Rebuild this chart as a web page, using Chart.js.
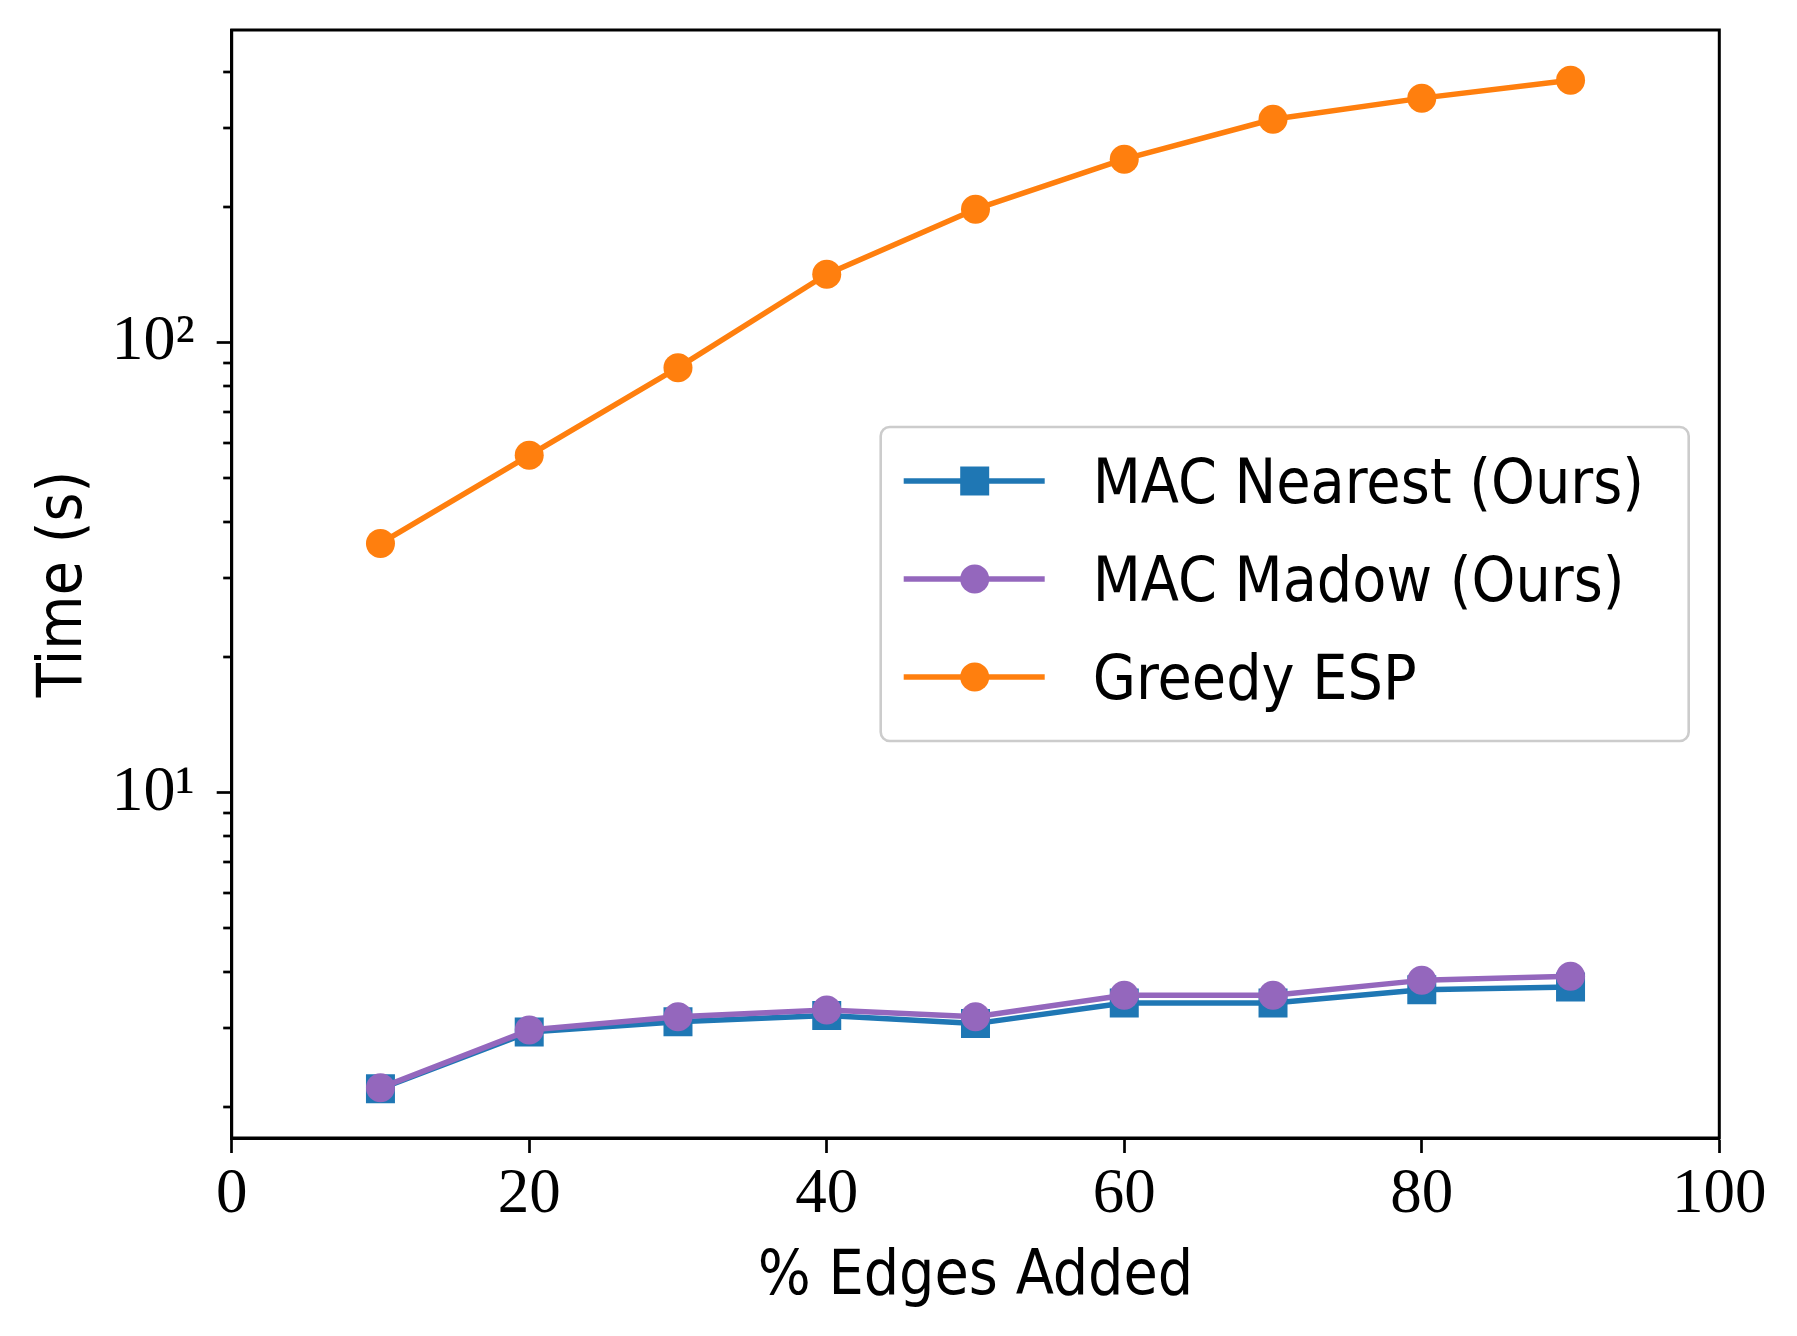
<!DOCTYPE html>
<html>
<head>
<meta charset="utf-8">
<script src="https://cdn.jsdelivr.net/npm/chart.js@4.4.0/dist/chart.umd.min.js"></script>
<style>
  html, body { margin: 0; padding: 0; background: #fff; }
  #wrap { width: 1797px; height: 1336px; }
</style>
</head>
<body>
<div id="wrap"><canvas id="chart" width="1797" height="1336"></canvas></div>
<script>
"use strict";

// values (time in seconds, log axis)
const edgesAdded = [10, 20, 30, 40, 50, 60, 70, 80, 90];
const macNearest = [2.20, 2.94, 3.10, 3.20, 3.07, 3.41, 3.41, 3.65, 3.70];
const macMadow = [2.21, 2.97, 3.18, 3.29, 3.18, 3.55, 3.55, 3.83, 3.91];
const greedyEsp = [35.8, 56.2, 88.0, 141.9, 197.9, 255.6, 313.6, 349.3, 383.0];
const seriesNames = ['MAC Nearest (Ours)', 'MAC Madow (Ours)', 'Greedy ESP'];

// tick positions
const xTicks = [0, 20, 40, 60, 80, 100];
const yTicks = [2, 3, 4, 5, 6, 7, 8, 9, 10, 20, 30, 40, 50, 60, 70, 80, 90, 100, 200, 300, 400];
const yMajor = [10, 100];

const sansFont = "'DejaVu Sans Condensed', 'DejaVu Sans', sans-serif";
const serifFont = "'Liberation Serif', 'DejaVu Serif', serif";
const sup = {'0': '\u2070', '1': '\u00b9', '2': '\u00b2', '3': '\u00b3'};

function points(ys) {
  return edgesAdded.map((x, i) => ({x: x, y: ys[i]}));
}

// box around the axes, minor log ticks and the legend
const framePlugin = {
  id: 'frame',
  afterDraw(chart) {
    const ctx = chart.ctx;
    const a = chart.chartArea;
    const yScale = chart.scales.y;
    ctx.save();
    ctx.strokeStyle = '#000';
    ctx.lineWidth = 2.7;
    yTicks.filter(v => !yMajor.includes(v)).forEach(v => {
      const py = Math.round(yScale.getPixelForValue(v));
      ctx.beginPath();
      ctx.moveTo(a.left - 8.5, py);
      ctx.lineTo(a.left, py);
      ctx.stroke();
    });
    ctx.lineWidth = 3;
    ctx.strokeRect(a.left, a.top, a.right - a.left, a.bottom - a.top);

    // legend
    const lx = a.left + 649, ly = a.top + 397;
    const lw = 808, lh = 314;
    ctx.beginPath();
    Chart.helpers.addRoundedRectPath(ctx, {x: lx, y: ly, w: lw, h: lh,
      radius: {topLeft: 9, topRight: 9, bottomLeft: 9, bottomRight: 9}});
    ctx.fillStyle = 'rgba(255,255,255,0.8)';
    ctx.fill();
    ctx.strokeStyle = '#cccccc';
    ctx.lineWidth = 2.6;
    ctx.stroke();

    chart.data.datasets.forEach((ds, i) => {
      const cy = ly + 54 + i * 98;
      ctx.strokeStyle = ds.borderColor;
      ctx.lineWidth = ds.borderWidth;
      ctx.beginPath();
      ctx.moveTo(lx + 23, cy);
      ctx.lineTo(lx + 164, cy);
      ctx.stroke();
      ctx.fillStyle = ds.borderColor;
      Chart.helpers.drawPoint(ctx, {pointStyle: ds.pointStyle, radius: ds.pointRadius,
        rotation: 0, borderWidth: 0}, lx + 94, cy);
      ctx.fillStyle = '#000';
      ctx.font = '62px ' + sansFont;
      ctx.textBaseline = 'alphabetic';
      ctx.textAlign = 'left';
      ctx.fillText(ds.label, lx + 212, cy + 22);
    });
    ctx.restore();
  }
};

const chart = new Chart(document.getElementById('chart'), {
  type: 'line',
  data: {
    datasets: [
      {
        label: seriesNames[0],
        data: points(macNearest),
        borderColor: '#1f77b4',
        backgroundColor: '#1f77b4',
        pointStyle: 'rect',
        pointRadius: 20.5,
        order: 3
      },
      {
        label: seriesNames[1],
        data: points(macMadow),
        borderColor: '#9467bd',
        backgroundColor: '#9467bd',
        pointStyle: 'circle',
        pointRadius: 14.5,
        order: 2
      },
      {
        label: seriesNames[2],
        data: points(greedyEsp),
        borderColor: '#ff7f0e',
        backgroundColor: '#ff7f0e',
        pointStyle: 'circle',
        pointRadius: 14.5,
        order: 1
      }
    ].map(ds => Object.assign(ds, {
      borderWidth: 5.5,
      pointBorderWidth: 0,
      pointHoverRadius: ds.pointRadius,
      borderJoinStyle: 'round',
      tension: 0,
      fill: false
    }))
  },
  options: {
    responsive: false,
    animation: false,
    devicePixelRatio: 1,
    layout: {padding: {top: 30, right: 77.7, left: 0, bottom: 0}},
    plugins: {
      legend: {display: false},
      tooltip: {enabled: false}
    },
    scales: {
      x: {
        type: 'linear',
        min: 0,
        max: 100,
        afterBuildTicks: s => { s.ticks = xTicks.map(v => ({value: v})); },
        afterFit: s => { s.height = 198; },
        grid: {drawOnChartArea: false, color: '#000', tickLength: 15, tickWidth: 2.7},
        border: {color: '#000', width: 3},
        ticks: {
          font: {family: serifFont, size: 63},
          color: '#000',
          padding: 5,
          maxRotation: 0,
          autoSkip: false
        },
        title: {
          display: true,
          text: '% Edges Added',
          color: '#000',
          font: {family: sansFont, size: 62},
          padding: {top: 0, bottom: 21}
        }
      },
      y: {
        type: 'logarithmic',
        min: 1.71,
        max: 495,
        bounds: 'data',
        afterBuildTicks: s => { s.ticks = yTicks.map(v => ({value: v})); },
        afterFit: s => { s.width = 231.7; s.paddingTop = 0; s.paddingBottom = 0; },
        grid: {
          drawOnChartArea: false,
          tickLength: 15,
          tickWidth: 2.7,
          tickColor: c => (c.tick && yMajor.includes(c.tick.value)) ? '#000' : 'rgba(0,0,0,0)'
        },
        border: {color: '#000', width: 3},
        ticks: {
          font: {family: serifFont, size: 64},
          color: '#000',
          padding: 22,
          autoSkip: false,
          callback: v => {
            if (!yMajor.includes(v)) return '';
            const e = String(Math.round(Math.log10(v)));
            return '10' + e.split('').map(d => sup[d]).join('');
          }
        },
        title: {
          display: true,
          text: 'Time (s)',
          color: '#000',
          font: {family: sansFont, size: 62},
          padding: {top: 28, bottom: 0}
        }
      }
    }
  },
  plugins: [framePlugin]
});
</script>
</body>
</html>
